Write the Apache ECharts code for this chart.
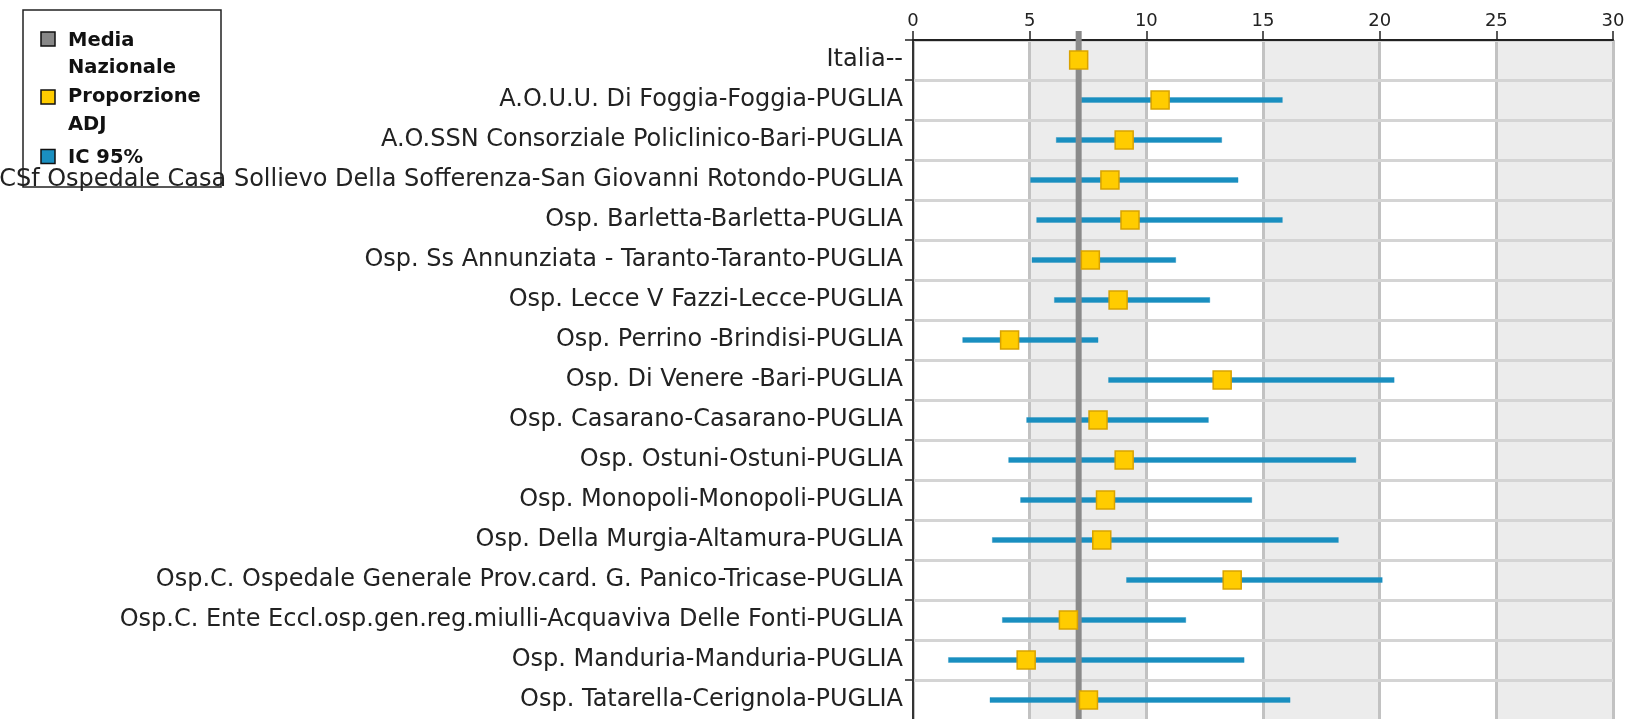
<!DOCTYPE html>
<html>
<head>
<meta charset="utf-8">
<script src="https://cdn.jsdelivr.net/npm/echarts@6/dist/echarts.min.js"></script>
<style>
html,body{margin:0;padding:0;background:#fff;}
#chart{width:1629px;height:719px;}
</style>
</head>
<body>
<div id="chart"></div>
<script>
const categories = [
  "Italia--",
  "A.O.U.U. Di Foggia-Foggia-PUGLIA",
  "A.O.SSN Consorziale Policlinico-Bari-PUGLIA",
  "IRCCSf Ospedale Casa Sollievo Della Sofferenza-San Giovanni Rotondo-PUGLIA",
  "Osp. Barletta-Barletta-PUGLIA",
  "Osp. Ss Annunziata - Taranto-Taranto-PUGLIA",
  "Osp. Lecce V Fazzi-Lecce-PUGLIA",
  "Osp. Perrino -Brindisi-PUGLIA",
  "Osp. Di Venere -Bari-PUGLIA",
  "Osp. Casarano-Casarano-PUGLIA",
  "Osp. Ostuni-Ostuni-PUGLIA",
  "Osp. Monopoli-Monopoli-PUGLIA",
  "Osp. Della Murgia-Altamura-PUGLIA",
  "Osp.C. Ospedale Generale Prov.card. G. Panico-Tricase-PUGLIA",
  "Osp.C. Ente Eccl.osp.gen.reg.miulli-Acquaviva Delle Fonti-PUGLIA",
  "Osp. Manduria-Manduria-PUGLIA",
  "Osp. Tatarella-Cerignola-PUGLIA"
];
const proporzioneAdj = [7.1, 10.59, 9.05, 8.44, 9.30, 7.60, 8.79, 4.14, 13.25, 7.93, 9.05, 8.25, 8.09, 13.68, 6.66, 4.85, 7.52];
const icLow  = [null, 7.21, 6.14, 5.04, 5.30, 5.10, 6.06, 2.13, 8.38, 4.87, 4.10, 4.61, 3.40, 9.15, 3.83, 1.52, 3.30];
const icHigh = [null, 15.83, 13.23, 13.93, 15.83, 11.26, 12.72, 7.93, 20.62, 12.66, 18.98, 14.52, 18.23, 20.11, 11.69, 14.19, 16.16];
const mediaNazionale = 7.1;
const xTicks = [0, 5, 10, 15, 20, 25, 30];

const chart = echarts.init(document.getElementById('chart'), null, {renderer: 'canvas'});

const ciData = [];
categories.forEach((c, i) => {
  if (icLow[i] != null && icHigh[i] != null) ciData.push([icLow[i], icHigh[i], i]);
});
const pointData = proporzioneAdj.map((v, i) => [v, i]);

const xMin = xTicks[0], xMax = xTicks[xTicks.length - 1];

const option = {
  animation: false,
  backgroundColor: '#ffffff',
  grid: {left: 913, right: 16, top: 40, height: 680, containLabel: false, outerBoundsMode: 'none'},
  xAxis: [{
    // scale + background bands / vertical grid lines
    type: 'value', position: 'bottom', min: xMin, max: xMax, interval: 5, z: 0,
    axisLine: {show: false}, axisTick: {show: false}, axisLabel: {show: false},
    splitLine: {show: true, lineStyle: {color: '#c2c2c2', width: 3}},
    splitArea: {show: true, areaStyle: {color: ['#ffffff', '#ececec']}}
  }, {
    // visible top axis with labels
    type: 'value', position: 'top', min: xMin, max: xMax, interval: 5, z: 3,
    axisLine: {show: true, lineStyle: {color: '#222', width: 2}},
    axisTick: {show: true, length: 9, lineStyle: {color: '#222', width: 1.5}},
    axisLabel: {fontFamily: 'DejaVu Sans', fontSize: 18, color: '#222', margin: 10},
    splitLine: {show: false}, splitArea: {show: false}
  }],
  yAxis: [{
    type: 'category', data: categories, inverse: true, z: 1,
    axisLine: {show: true, lineStyle: {color: '#222', width: 2}},
    axisTick: {show: true, length: 8, lineStyle: {color: '#222', width: 1.5}},
    axisLabel: {fontFamily: 'DejaVu Sans', fontSize: 24, color: '#222', margin: 10},
    splitLine: {show: true, lineStyle: {color: '#d4d4d4', width: 3}}
  }, {
    type: 'category', data: categories, inverse: true, position: 'right', z: 3,
    axisLine: {show: true, lineStyle: {color: '#333', width: 2}},
    axisTick: {show: false}, axisLabel: {show: false}, splitLine: {show: false}
  }],
  series: [
    {
      name: 'IC 95%', type: 'custom', z: 2, data: ciData, xAxisIndex: 0, yAxisIndex: 0,
      encode: {x: [0, 1], y: 2},
      renderItem: function (params, api) {
        const p1 = api.coord([api.value(0), api.value(2)]);
        const p2 = api.coord([api.value(1), api.value(2)]);
        return {type: 'rect', shape: {x: p1[0], y: p1[1] - 2.5, width: p2[0] - p1[0], height: 5},
                style: {fill: '#1a8fc0', stroke: 'rgba(26,143,192,0.35)', lineWidth: 1}};
      }
    },
    {
      name: 'Media Nazionale', type: 'custom', z: 4, clip: false, data: [[mediaNazionale, 0]],
      xAxisIndex: 0, yAxisIndex: 0,
      encode: {x: 0, y: 1},
      renderItem: function (params, api) {
        const x = api.coord([api.value(0), 0])[0];
        const cs = params.coordSys;
        return {type: 'line', shape: {x1: x, y1: cs.y - 9, x2: x, y2: cs.y + cs.height},
                style: {stroke: '#8a8a8a', lineWidth: 6}};
      }
    },
    {
      name: 'Proporzione ADJ', type: 'scatter', z: 5, data: pointData, xAxisIndex: 0, yAxisIndex: 0,
      symbol: 'rect', symbolSize: 18,
      itemStyle: {color: '#ffcc00', borderColor: '#d9a200', borderWidth: 1.5, opacity: 1}
    }
  ],
  graphic: [
    {type: 'rect', z: 10, shape: {x: 23, y: 10, width: 198, height: 177}, style: {fill: null, stroke: '#222', lineWidth: 1.5}},
    {type: 'rect', z: 10, shape: {x: 41, y: 32, width: 14, height: 14}, style: {fill: '#888888', stroke: '#111', lineWidth: 1.5}},
    {type: 'rect', z: 10, shape: {x: 41, y: 90, width: 14, height: 14}, style: {fill: '#ffcc00', stroke: '#111', lineWidth: 1.5}},
    {type: 'rect', z: 10, shape: {x: 41, y: 149.5, width: 14, height: 14}, style: {fill: '#1a8fc0', stroke: '#111', lineWidth: 1.5}},
    {type: 'text', z: 10, x: 68, y: 41, style: {text: 'Media', font: 'bold 19.5px "DejaVu Sans"', fill: '#111', verticalAlign: 'middle'}},
    {type: 'text', z: 10, x: 68, y: 68, style: {text: 'Nazionale', font: 'bold 19.5px "DejaVu Sans"', fill: '#111', verticalAlign: 'middle'}},
    {type: 'text', z: 10, x: 68, y: 97, style: {text: 'Proporzione', font: 'bold 19.5px "DejaVu Sans"', fill: '#111', verticalAlign: 'middle'}},
    {type: 'text', z: 10, x: 68, y: 125, style: {text: 'ADJ', font: 'bold 19.5px "DejaVu Sans"', fill: '#111', verticalAlign: 'middle'}},
    {type: 'text', z: 10, x: 68, y: 157.5, style: {text: 'IC 95%', font: 'bold 19.5px "DejaVu Sans"', fill: '#111', verticalAlign: 'middle'}}
  ]
};
chart.setOption(option);
</script>
</body>
</html>
